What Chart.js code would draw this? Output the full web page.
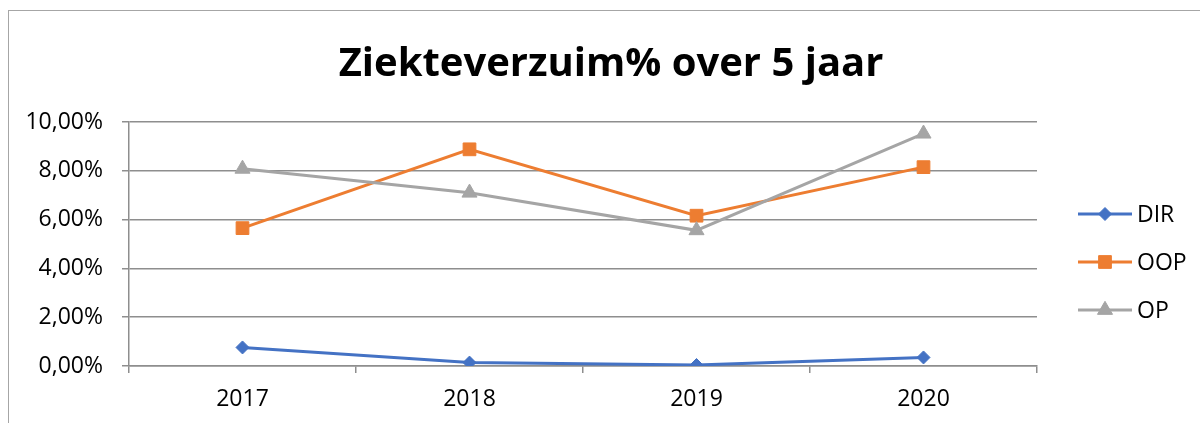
<!DOCTYPE html>
<html>
<head>
<meta charset="utf-8">
<script src="https://cdn.jsdelivr.net/npm/chart.js"></script>
<style>
  html, body { margin: 0; padding: 0; background: #fff; overflow: hidden; }
  #wrap { position: relative; width: 1200px; height: 423px; }
  #frame { position: absolute; left: 8px; top: 10px; width: 1400px; height: 600px;
           border: 1px solid #a6a6a6; box-sizing: border-box; pointer-events: none; }
  canvas { position: absolute; left: 0; top: 0; }
</style>
</head>
<body>
<div id="wrap">
  <div id="frame"></div>
  <canvas id="chart" width="1200" height="423"></canvas>
</div>
<script>
// values, in percent
var years = ['2017', '2018', '2019', '2020'];
var dirValues = [0.76, 0.14, 0.04, 0.35];
var oopValues = [5.65, 8.88, 6.16, 8.15];
var opValues = [8.08, 7.10, 5.56, 9.52];
var seriesNames = ['DIR', 'OOP', 'OP'];
var yMin = 0, yMax = 10, yStep = 2;

var titleText = 'Ziekteverzuim% over 5 jaar';
var FONT = '"Open Sans", "Liberation Sans", sans-serif';
var gridColor = '#8e8e8e';

function fmtPct(v) {
  return v.toFixed(2).replace('.', ',') + '%';
}

// title + legend drawn by hand (line + marker legend like the original)
var decorations = {
  id: 'decorations',
  afterDraw: function(chart) {
    var ctx = chart.ctx;
    ctx.save();
    ctx.fillStyle = '#000';
    ctx.font = 'bold 40px ' + FONT;
    ctx.textAlign = 'center';
    ctx.textBaseline = 'alphabetic';
    ctx.fillText(titleText, 611, 76);

    ctx.font = '23px ' + FONT;
    ctx.textAlign = 'left';
    ctx.textBaseline = 'middle';
    chart.data.datasets.forEach(function(ds, i) {
      var y = 214 + i * 48;
      ctx.strokeStyle = ds.borderColor;
      ctx.lineWidth = ds.borderWidth;
      ctx.beginPath();
      ctx.moveTo(1078, y);
      ctx.lineTo(1132, y);
      ctx.stroke();
      ctx.fillStyle = ds.pointBackgroundColor;
      ctx.strokeStyle = ds.pointBorderColor;
      ctx.lineWidth = 1;
      Chart.helpers.drawPoint(ctx, { pointStyle: ds.pointStyle, radius: ds.pointRadius, borderWidth: 1 }, 1105, y);
      ctx.fillStyle = '#000';
      ctx.fillText(ds.label, 1137, y + 1);
    });
    ctx.restore();
  }
};

function makeSet(label, values, color, style, radius, order) {
  return {
    label: label,
    data: values,
    borderColor: color,
    backgroundColor: color,
    borderWidth: 3,
    tension: 0,
    pointStyle: style,
    pointRadius: radius,
    pointHoverRadius: radius,
    pointBackgroundColor: color,
    pointBorderColor: color,
    pointBorderWidth: 1,
    order: order
  };
}

new Chart(document.getElementById('chart'), {
  type: 'line',
  data: {
    labels: years,
    datasets: [
      makeSet(seriesNames[0], dirValues, '#4472C4', 'rectRot', 6.5, 3),
      makeSet(seriesNames[1], oopValues, '#ED7D31', 'rect', 9, 2),
      makeSet(seriesNames[2], opValues, '#A5A5A5', 'triangle', 8.7, 1)
    ]
  },
  options: {
    responsive: false,
    animation: false,
    devicePixelRatio: 1,
    layout: { padding: { top: 122, right: 163, bottom: 0, left: 0 } },
    plugins: {
      legend: { display: false },
      title: { display: false },
      tooltip: { enabled: false }
    },
    scales: {
      x: {
        offset: true,
        afterFit: function(scale) { scale.height = 57; },
        grid: {
          offset: true,
          drawOnChartArea: false,
          drawTicks: true,
          tickLength: 7,
          color: gridColor,
          lineWidth: 1.5
        },
        border: { display: true, color: gridColor, width: 1.5 },
        ticks: {
          color: '#000',
          padding: 13,
          font: { family: FONT, size: 23 }
        }
      },
      y: {
        min: yMin,
        max: yMax,
        afterFit: function(scale) { scale.width = 129; },
        grid: {
          drawTicks: true,
          tickLength: 7,
          color: gridColor,
          lineWidth: 1.5
        },
        border: { display: true, color: gridColor, width: 1.5 },
        ticks: {
          stepSize: yStep,
          color: '#000',
          padding: 19,
          font: { family: FONT, size: 23 },
          callback: function(v) { return fmtPct(v); }
        }
      }
    }
  },
  plugins: [decorations]
});
</script>
</body>
</html>
